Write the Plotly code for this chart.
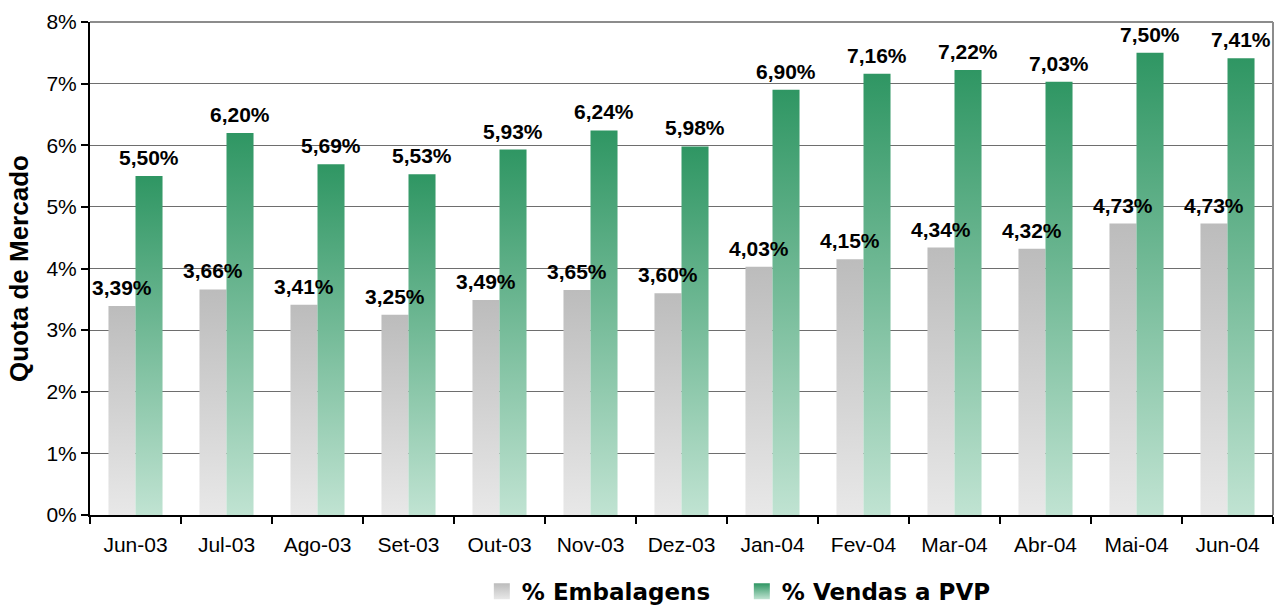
import plotly.graph_objects as go

categories = ["Jun-03", "Jul-03", "Ago-03", "Set-03", "Out-03", "Nov-03", "Dez-03",
              "Jan-04", "Fev-04", "Mar-04", "Abr-04", "Mai-04", "Jun-04"]
embalagens = [3.39, 3.66, 3.41, 3.25, 3.49, 3.65, 3.60, 4.03, 4.15, 4.34, 4.32, 4.73, 4.73]
vendas_pvp = [5.50, 6.20, 5.69, 5.53, 5.93, 6.24, 5.98, 6.90, 7.16, 7.22, 7.03, 7.50, 7.41]
y_ticks = [0, 1, 2, 3, 4, 5, 6, 7, 8]

BAR_W = 0.297
series = [
    ("% Embalagens", embalagens, -1, "#e8e8e8", "#bcbcbc"),
    ("% Vendas a PVP", vendas_pvp, 0, "#c0e3d2", "#2f9663"),
]

fig = go.Figure()
# gradient bars
for name, vals, side, c_bot, c_top in series:
    for i, v in enumerate(vals):
        x0 = i + side * BAR_W
        x1 = x0 + BAR_W
        fig.add_trace(go.Scatter(
            x=[x0, x1, x1, x0, x0], y=[0, 0, v, v, 0],
            mode="lines", fill="toself", line=dict(width=0),
            fillgradient=dict(type="vertical", colorscale=[[0, c_bot], [1, c_top]],
                              start=0, stop=v),
            showlegend=False, hoverinfo="skip",
        ))
# legend entries
for name, vals, side, c_bot, c_top in series:
    fig.add_trace(go.Scatter(
        x=[None], y=[None], name=name, mode="markers",
        marker=dict(symbol="square", size=17, color=c_top, line=dict(width=0),
                    gradient=dict(type="vertical", color=c_bot)),
        showlegend=True, hoverinfo="skip"))
# value labels on top
for name, vals, side, c_bot, c_top in series:
    for i, v in enumerate(vals):
        fig.add_annotation(
            x=i + side * BAR_W + BAR_W / 2, y=v,
            text="<b>" + f"{v:.2f}".replace(".", ",") + "%</b>",
            showarrow=False, xanchor="center", yanchor="bottom", yshift=5,
            font=dict(family="Liberation Sans, Arial", size=21, color="#000000"),
        )

fig.update_layout(
    width=1275, height=605,
    margin=dict(l=90, r=2, t=22, b=90, autoexpand=False),
    plot_bgcolor="white", paper_bgcolor="white",
    font=dict(family="Liberation Sans, Arial", size=21, color="#000000"),
    showlegend=True,
    legend=dict(orientation="h", x=0.551, xanchor="center", y=-0.155, yanchor="middle",
                font=dict(family="DejaVu Sans, Verdana", size=23, color="#000000", weight="bold"),
                itemwidth=30, traceorder="normal", entrywidth=215, entrywidthmode="pixels"),
    xaxis=dict(range=[-0.5, 12.5], tickmode="array", tickvals=list(range(len(categories))),
               ticktext=categories, ticks="", showgrid=False, zeroline=False,
               showline=True, linecolor="#000000", linewidth=2, automargin=False,
               ticklabelstandoff=10,
               minor=dict(tickmode="array", tickvals=[k - 0.5 for k in range(len(categories) + 1)],
                          ticks="outside", ticklen=7, tickcolor="#000000", tickwidth=1.5),
               tickfont=dict(size=21)),
    yaxis=dict(range=[0, 8], tickmode="array", tickvals=y_ticks,
               ticktext=[f"{t}%" for t in y_ticks],
               ticks="outside", ticklen=7, tickcolor="#000000", tickwidth=1.5,
               showgrid=True, gridcolor="#6e6e6e", gridwidth=1, zeroline=False,
               showline=True, linecolor="#000000", linewidth=2, automargin=False,
               title=dict(text="<b>Quota de Mercado</b>", font=dict(size=26), standoff=10),
               tickfont=dict(size=21)),
)
fig.add_shape(type="line", xref="paper", yref="paper", x0=1, x1=1, y0=0, y1=1,
              line=dict(color="#8c8c8c", width=2))
fig.add_shape(type="line", xref="paper", yref="paper", x0=0, x1=1, y0=1, y1=1,
              line=dict(color="#8c8c8c", width=2))

fig.write_html("out.html", config={"displayModeBar": False},
               post_script="document.body.style.margin='0';document.body.style.padding='0';")
